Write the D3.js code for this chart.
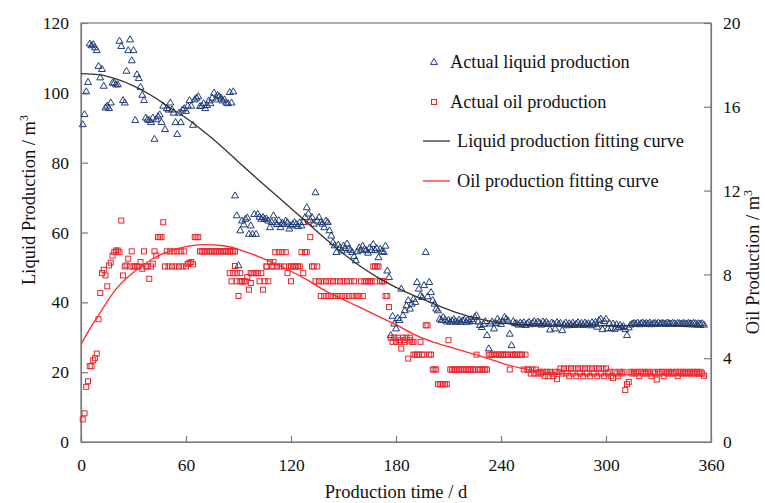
<!DOCTYPE html>
<html><head><meta charset="utf-8">
<script src="https://cdn.jsdelivr.net/npm/d3@7"></script>
<style>
html,body{margin:0;padding:0;background:#fff;}
svg{display:block;font-family:"Liberation Serif","Times New Roman",serif;}
</style></head>
<body>
<script>
// ---------- DATA ----------
const firstDay = 1;
// Actual liquid production (m3), one value per day from day 1
const liquidActual = [
 91.0,93.9,100.4,103.1,114.1,113.6,113.9,113.0,112.2,107.7,
 104.4,106.8,102.0,95.8,96.3,95.6,97.2,102.9,102.9,102.4,
 102.4,114.9,113.4,97.9,97.2,106.3,112.2,115.3,109.3,112.2,
 92.2,105.3,104.2,101.7,99.4,97.9,92.9,92.4,92.2,91.6,
 92.9,86.8,92.4,93.3,93.8,91.6,96.3,89.6,95.6,95.2,
 97.2,95.2,94.3,91.6,88.2,94.3,91.6,95.2,95.6,94.8,
 96.3,97.9,96.3,90.8,98.1,98.6,99.0,96.2,96.3,97.0,
 95.6,96.5,97.8,97.0,98.6,100.0,98.1,99.4,99.0,98.6,
 97.8,98.1,97.2,97.0,100.2,97.2,100.4,70.6,64.9,50.6,
 60.6,63.4,62.3,63.9,64.3,59.6,62.0,59.6,65.3,59.6,
 65.3,64.5,63.9,64.4,63.9,64.0,63.4,61.5,63.0,64.9,
 62.9,62.4,63.5,61.5,62.8,62.4,63.4,62.9,61.1,62.0,
 62.4,63.0,62.4,61.8,62.9,62.0,63.0,64.4,67.2,65.4,
 63.5,64.4,62.5,71.5,63.4,64.4,63.0,62.5,61.5,63.4,
 63.0,60.6,59.1,57.2,56.3,54.4,56.5,55.7,54.8,56.2,
 55.5,56.8,55.4,55.0,54.4,53.2,52.0,54.6,55.7,55.0,
 56.2,55.3,54.9,54.2,55.7,55.0,56.7,54.9,55.5,52.9,
 55.3,54.6,54.4,56.2,49.1,47.2,30.6,36.1,33.9,32.5,
 35.5,34.9,43.9,36.3,37.7,39.1,40.6,38.2,39.6,41.0,
 40.1,45.8,43.9,42.0,41.5,44.9,54.4,41.7,45.8,42.9,
 40.6,39.6,38.2,37.7,35.3,34.9,35.8,34.9,34.5,35.0,
 34.4,34.8,35.2,34.6,34.4,35.0,34.4,34.8,35.0,34.4,
 34.9,34.5,35.2,34.6,35.8,36.3,34.5,33.5,32.9,33.8,
 34.6,30.6,26.8,33.9,34.5,32.5,34.0,35.3,34.5,33.8,
 34.6,35.8,35.3,34.8,31.0,27.7,34.6,34.0,34.0,33.6,
 34.2,33.8,34.3,33.5,34.0,34.4,33.7,34.1,34.6,33.9,
 34.5,34.2,33.6,34.5,34.0,34.4,33.8,32.2,34.2,33.9,
 32.5,34.3,33.8,34.1,32.0,33.7,34.2,33.4,34.0,33.6,
 34.2,33.5,33.9,34.3,33.6,34.1,33.5,34.2,33.8,34.0,
 33.4,34.3,33.7,34.4,33.0,34.9,35.3,32.3,34.6,35.3,
 32.5,34.0,32.6,33.9,32.4,33.7,32.8,33.5,32.9,33.2,
 32.3,30.6,32.8,33.6,33.9,34.1,33.8,34.2,33.7,34.0,
 34.2,33.8,34.1,33.9,34.2,33.7,34.0,34.1,33.8,34.2,
 33.9,34.1,34.0,33.8,34.2,34.0,33.9,34.1,34.0,33.8,
 34.1,34.0,33.9,34.1,34.0,33.8,34.1,34.0,33.9,34.1,
 34.0,33.8,34.0,33.9,34.0,33.6
];
// Actual oil production (m3, right axis), one value per day from day 1
const oilActual = [
 1.08,1.37,2.63,2.90,3.62,3.62,3.90,4.00,4.22,5.86,
 7.11,8.06,8.22,7.95,7.43,8.43,8.56,8.90,9.06,9.14,
 9.14,9.06,10.57,7.95,8.38,8.43,8.75,8.38,9.10,8.38,
 8.38,8.38,8.38,8.59,8.27,9.10,8.38,8.38,7.79,8.38,
 8.51,9.10,8.90,9.78,9.78,9.78,10.49,8.38,9.10,8.38,
 9.10,8.38,9.10,8.38,9.10,8.38,9.10,8.38,9.10,8.38,
 8.50,8.55,8.59,8.48,9.78,9.78,9.78,9.10,9.10,9.10,
 9.10,9.10,9.10,9.10,9.10,9.10,9.10,9.10,9.10,9.10,
 9.10,9.10,9.10,9.10,9.10,9.10,9.10,9.10,7.67,6.97,
 7.67,7.67,7.67,7.67,7.87,7.27,7.59,8.06,8.06,8.06,
 8.06,7.67,8.06,7.27,7.67,8.38,7.67,8.59,8.38,8.59,
 9.06,8.38,9.06,8.38,9.06,8.38,9.06,8.06,8.38,7.67,
 8.38,8.38,8.38,8.38,8.38,9.06,8.06,9.06,9.06,10.49,
 9.78,8.38,8.38,7.67,8.38,7.67,6.97,7.67,6.97,7.67,
 6.97,7.67,6.97,7.67,6.97,7.67,6.97,7.67,6.97,7.67,
 6.97,7.67,6.97,7.67,6.97,7.67,6.97,6.97,6.97,7.67,
 6.97,7.67,7.67,7.67,7.67,7.67,8.38,7.67,8.38,8.38,
 7.67,7.67,7.67,6.97,6.97,6.44,4.98,4.78,4.98,4.78,
 4.98,4.78,4.46,4.98,4.78,4.98,3.98,4.98,4.78,4.78,
 4.17,4.17,4.17,4.78,4.17,4.17,5.57,5.57,4.17,4.17,
 3.46,3.46,3.46,2.76,2.76,2.76,2.76,2.76,2.76,4.86,
 3.46,3.46,3.46,3.46,3.46,3.46,3.46,3.46,3.46,3.46,
 3.46,3.46,3.46,3.46,3.46,4.17,3.46,3.46,3.46,3.46,
 3.46,3.46,4.17,4.17,4.17,4.17,4.17,4.17,4.17,4.17,
 4.17,4.17,4.17,4.17,3.46,4.17,4.17,4.17,4.17,4.17,
 4.17,4.17,3.46,4.17,3.46,3.46,3.27,3.46,3.27,3.46,
 3.27,3.35,3.27,3.35,3.14,3.35,3.14,3.35,3.27,3.14,
 3.35,3.00,3.35,3.51,3.27,3.51,3.27,3.51,3.14,3.51,
 3.27,3.51,3.14,3.51,3.27,3.51,3.14,3.51,3.27,3.51,
 3.14,3.51,3.27,3.51,3.14,3.51,3.27,3.51,3.14,3.51,
 3.27,3.35,3.14,3.05,3.35,3.27,3.14,3.35,3.27,3.35,
 2.48,2.76,2.87,3.35,3.27,3.35,3.27,3.35,3.14,3.35,
 3.27,3.35,3.27,3.35,3.27,3.14,3.35,3.27,2.98,3.35,
 3.27,3.35,3.14,3.35,3.27,3.35,3.27,3.35,3.27,3.35,
 3.14,3.35,3.27,3.35,3.27,3.35,3.27,3.35,3.27,3.35,
 3.27,3.35,3.27,3.35,3.27,3.16
];
// additional oil records on days with more than one reading [day, value]
const oilExtra = [
 [85,8.06],[86,7.67],[87,8.06],[88,8.40],[89,8.06],[91,8.06],[92,7.67],
 [97,8.06],[106,8.38],[110,8.38],[120,8.38],[168,8.38],[182,4.86],
 [185,4.86],[188,4.86],[190,4.17]
];
// Fitting curves, points [day, value]
const liquidFit = [
 [0,105.5],[10,105.2],[20,104.0],[30,102.0],[40,99.3],[50,96.0],[60,92.8],
 [70,89.0],[80,84.8],[90,80.2],[100,75.7],[110,71.3],[120,66.9],[130,62.5],
 [140,58.1],[150,53.9],[160,50.2],[170,47.0],[180,44.3],[190,42.0],
 [200,39.9],[210,37.9],[220,36.2],[230,35.0],[240,34.1],[250,33.6],
 [260,33.3],[270,33.2],[280,33.2],[300,33.3],[320,33.4],[340,33.2],[356,32.8]
];
const oilFit = [
 [0,4.65],[5,5.4],[10,6.05],[20,7.3],[30,8.1],[40,8.7],[50,9.1],[60,9.33],
 [70,9.42],[80,9.38],[90,9.2],[100,8.9],[110,8.55],[120,8.15],[130,7.7],
 [140,7.2],[150,6.8],[160,6.4],[170,6.0],[180,5.6],[190,5.15],[200,4.8],
 [210,4.55],[220,4.3],[230,4.05],[240,3.78],[250,3.55],[260,3.4],[270,3.3],
 [280,3.25],[300,3.2],[320,3.2],[340,3.18],[356,3.15]
];
const xTicks = [0,60,120,180,240,300,360];
const yLeftTicks = [0,20,40,60,80,100,120];
const yRightTicks = [0,4,8,12,16,20];
const legendItems = [
 {label:"Actual liquid production", kind:"tri"},
 {label:"Actual oil production", kind:"sq"},
 {label:"Liquid production fitting curve", kind:"lineL"},
 {label:"Oil production fitting curve", kind:"lineO"}
];

// ---------- CHART ----------
const W = 765, H = 503;
const P = {l:81, r:711, t:23, b:442};
const C = {liq:"#1f3c78", oil:"#e8262d", fitL:"#333333", fitO:"#ff2a2a", axis:"#7a7a7a", text:"#111"};
const FONT = "Liberation Serif, Times New Roman, serif";

const svg = d3.select("body").append("svg").attr("width", W).attr("height", H);
const x = d3.scaleLinear().domain([0,360]).range([P.l,P.r]);
const yL = d3.scaleLinear().domain([0,120]).range([P.b,P.t]);
const yR = d3.scaleLinear().domain([0,20]).range([P.b,P.t]);

const fs = 17.5;
function styleAxis(g){
  g.attr("font-family", FONT);
  g.selectAll("path.domain").attr("stroke", C.axis).attr("stroke-width",1.2);
  g.selectAll(".tick line").attr("stroke", C.axis).attr("stroke-width",1.2);
  g.selectAll("text").attr("font-family",FONT).attr("font-size",fs).attr("fill",C.text);
}
// frame
svg.append("rect").attr("x",P.l).attr("y",P.t).attr("width",P.r-P.l).attr("height",P.b-P.t)
  .attr("fill","none").attr("stroke",C.axis).attr("stroke-width",1.2);

svg.append("g").attr("transform",`translate(0,${P.b})`)
  .call(d3.axisBottom(x).tickValues(xTicks).tickSizeInner(-6).tickSizeOuter(0).tickPadding(17))
  .call(styleAxis);
svg.append("g").attr("transform",`translate(${P.l},0)`)
  .call(d3.axisLeft(yL).tickValues(yLeftTicks).tickSizeInner(-7).tickSizeOuter(0).tickPadding(12))
  .call(styleAxis);
svg.append("g").attr("transform",`translate(${P.r},0)`)
  .call(d3.axisRight(yR).tickValues(yRightTicks).tickSizeInner(-7).tickSizeOuter(0).tickPadding(12))
  .call(styleAxis);

// points
const triPath = "M0,-3.6L3.5,2.4L-3.5,2.4Z";
const liqPts = liquidActual.map((v,i)=>[firstDay+i, v]);
const oilPts = oilActual.map((v,i)=>[firstDay+i, v]).concat(oilExtra);

svg.append("g").selectAll("path").data(liqPts).join("path")
  .attr("d", triPath)
  .attr("transform", d=>`translate(${x(d[0])},${yL(d[1])})`)
  .attr("fill","none").attr("stroke",C.liq).attr("stroke-width",1);

svg.append("g").selectAll("rect").data(oilPts).join("rect")
  .attr("x", d=>x(d[0])-2.5).attr("y", d=>yR(d[1])-2.5)
  .attr("width",5).attr("height",5)
  .attr("fill","none").attr("stroke",C.oil).attr("stroke-width",1);

// fitting curves
const lineL = d3.line().x(d=>x(d[0])).y(d=>yL(d[1])).curve(d3.curveMonotoneX);
const lineR = d3.line().x(d=>x(d[0])).y(d=>yR(d[1])).curve(d3.curveMonotoneX);
svg.append("path").attr("d", lineL(liquidFit)).attr("fill","none").attr("stroke",C.fitL).attr("stroke-width",1.3);
svg.append("path").attr("d", lineR(oilFit)).attr("fill","none").attr("stroke",C.fitO).attr("stroke-width",1.3);

// legend
const lg = svg.append("g").attr("font-family",FONT).attr("font-size",18.3).attr("fill",C.text);
const legendY = [62,102,141,181];
legendItems.forEach((it,i)=>{
  const y = legendY[i];
  if(it.kind==="tri"){
    lg.append("path").attr("d",triPath).attr("transform",`translate(434,${y})`)
      .attr("fill","none").attr("stroke",C.liq).attr("stroke-width",1);
  } else if(it.kind==="sq"){
    lg.append("rect").attr("x",431.5).attr("y",y-2.5).attr("width",5).attr("height",5)
      .attr("fill","none").attr("stroke",C.oil).attr("stroke-width",1);
  } else {
    lg.append("line").attr("x1",423).attr("x2",450).attr("y1",y).attr("y2",y)
      .attr("stroke", it.kind==="lineL"?C.fitL:C.fitO).attr("stroke-width",1.3);
  }
  const tx = (it.kind==="tri"||it.kind==="sq") ? 450 : 457;
  lg.append("text").attr("x",tx).attr("y",y+6).text(it.label);
});

// axis titles
const tfs = 18.5;
const t1 = svg.append("text").attr("transform","translate(35,200) rotate(-90)")
  .attr("text-anchor","middle").attr("font-family",FONT).attr("font-size",tfs).attr("fill",C.text);
t1.append("tspan").text("Liquid Production / m");
t1.append("tspan").attr("font-size",12).attr("dy",-7).text("3");

const t2 = svg.append("text").attr("transform","translate(759,262) rotate(-90)")
  .attr("text-anchor","middle").attr("font-family",FONT).attr("font-size",tfs).attr("fill",C.text);
t2.append("tspan").text("Oil Production / m");
t2.append("tspan").attr("font-size",12).attr("dy",-7).text("3");

svg.append("text").attr("x",396).attr("y",498).attr("text-anchor","middle")
  .attr("font-family",FONT).attr("font-size",tfs).attr("fill",C.text).text("Production time / d");
</script>
</body></html>
